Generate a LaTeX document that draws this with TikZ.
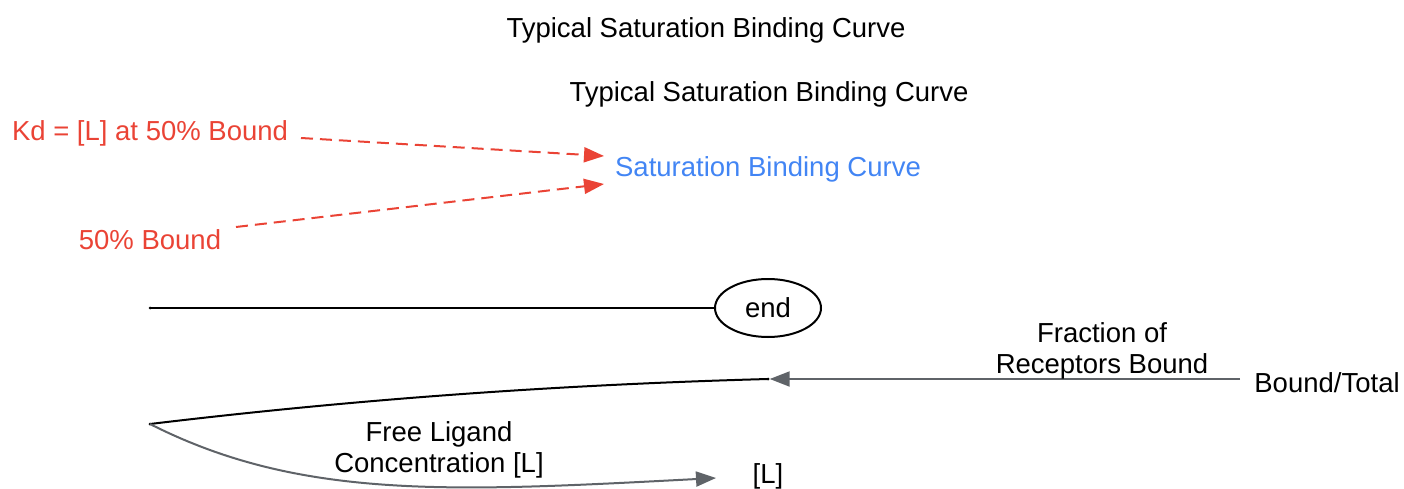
\documentclass[tikz,border=0pt]{standalone}
\usepackage{fontspec}
\setmainfont{Liberation Sans}
\usetikzlibrary{arrows.meta,shapes.geometric}
\definecolor{gred}{HTML}{EA4335}
\definecolor{gblue}{HTML}{4285F4}
\definecolor{ggray}{HTML}{5F6368}
\begin{document}
\begin{tikzpicture}[x=1pt,y=-1pt,
  lbl/.style={font=\fontsize{27.5}{31}\selectfont, inner sep=2pt, align=center},
  txt/.style={lbl, yshift=-2pt},
  redlbl/.style={txt, text=gred},
  redarrow/.style={draw=gred, line width=2pt, dash pattern=on 12pt off 7pt, -{Triangle[length=20pt,width=15pt,fill=gred]}},
  grayarrow/.style={draw=ggray, line width=2pt, -{Triangle[length=20pt,width=15pt,fill=ggray]}},
  blackline/.style={draw=black, line width=2pt},
  dot/.style={circle, fill=black, inner sep=0pt, minimum size=3pt}]
\useasboundingbox (0,0) rectangle (1404,489);
\node[txt] (t1) at (706,28) {Typical Saturation Binding Curve};
\node[txt] (t2) at (769,92) {Typical Saturation Binding Curve};
\node[redlbl] (kd) at (150,131) {Kd = [L] at 50\% Bound};
\node[redlbl] (half) at (150,238) {50\% Bound};
\node[txt, text=gblue] (sbc) at (768,167) {Saturation Binding Curve};
\coordinate (sbcA) at (604,156);
\coordinate (sbcB) at (604,184);
\coordinate (kdS) at (301,138);
\coordinate (halfS) at (236,227);
\draw[redarrow] (kdS) -- (sbcA);
\draw[redarrow] (halfS) -- (sbcB);
\node[dot] (a) at (150,308) {};
\node[draw, ellipse, line width=2pt, minimum width=106pt, minimum height=58pt, inner sep=0pt, lbl] (end) at (768,308) {end};
\draw[blackline] (a.center) -- (end.west);
\node[dot] (b) at (150,424) {};
\node[dot] (c) at (768,379) {};
\draw[blackline] (b.center) .. controls (350,400) and (550,385) .. (c.center);
\node[txt] (bt) at (1327,381) {Bound/Total};
\coordinate (btS) at (1240,379);
\draw[grayarrow] (btS) -- (c.east);
\node[txt] (frac) at (1102,349) {Fraction of\\Receptors Bound};
\node[txt] (L) at (768,474) {[L]};
\coordinate (Ltip) at (716,478);
\draw[grayarrow] (b.center) .. controls (300,500) and (450,492) .. (Ltip);
\node[txt] (free) at (439,448) {Free Ligand\\Concentration [L]};
\end{tikzpicture}
\end{document}
